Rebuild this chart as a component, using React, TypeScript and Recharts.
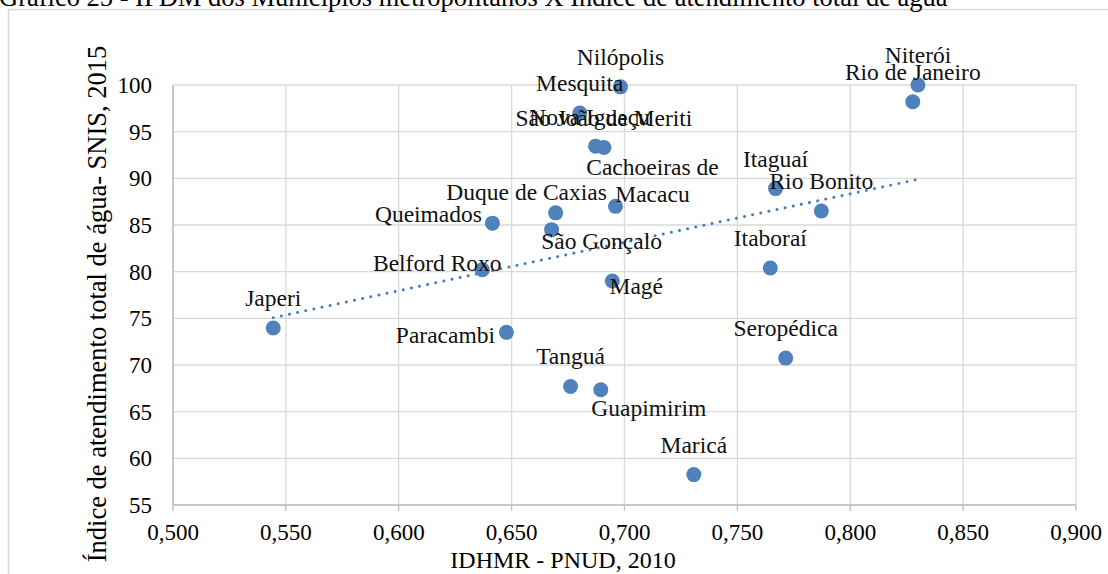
import React from 'react';
import { ScatterChart, Scatter, XAxis, YAxis, CartesianGrid, ReferenceLine } from 'recharts';

// municípios metropolitanos (RJ)
const municipios = [
  'Japeri', 'Paracambi', 'Belford Roxo', 'Queimados', 'Duque de Caxias', 'São Gonçalo',
  'Cachoeiras de Macacu', 'Magé', 'Tanguá', 'Guapimirim', 'Maricá', 'Seropédica',
  'Itaboraí', 'Itaguaí', 'Rio Bonito', 'Niterói', 'Rio de Janeiro', 'Nilópolis',
  'Mesquita', 'Nova Iguaçu', 'São João de Meriti',
];

// IDHMR - PNUD, 2010
const idhmr = [
  0.5444, 0.6477, 0.637, 0.6415, 0.6695, 0.6677,
  0.696, 0.6946, 0.6761, 0.6895, 0.7307, 0.7714,
  0.7646, 0.7669, 0.7872, 0.83, 0.8277, 0.6982,
  0.6802, 0.6872, 0.6909,
];

// Índice de atendimento total de água - SNIS, 2015
const atendimento = [
  73.96, 73.5, 80.2, 85.2, 86.3, 84.5,
  87.0, 79.0, 67.7, 67.35, 58.26, 70.74,
  80.4, 88.9, 86.5, 100.0, 98.2, 99.8,
  97.0, 93.45, 93.3,
];

const xTicks = [0.5, 0.55, 0.6, 0.65, 0.7, 0.75, 0.8, 0.85, 0.9];
const yTicks = [55, 60, 65, 70, 75, 80, 85, 90, 95, 100];

const TITLE = 'Gráfico 25 - IFDM dos Municípios metropolitanos X Índice de atendimento total de água';
const X_TITLE = 'IDHMR - PNUD, 2010';
const Y_TITLE = 'Índice de atendimento total de água- SNIS, 2015';

const FONT = '"Liberation Serif", "Times New Roman", serif';
const DOT = '#4F81BD';

// label placement relative to the marker (default: above)
const labelPos: Record<string, { dx: number; dy: number; lines?: string[] }> = {
  'Paracambi': { dx: -61, dy: 3 },
  'Belford Roxo': { dx: -45, dy: -7 },
  'Queimados': { dx: -64, dy: -9 },
  'Duque de Caxias': { dx: -29, dy: -21 },
  'São Gonçalo': { dx: 50, dy: 11 },
  'Cachoeiras de Macacu': { dx: 37, dy: -26, lines: ['Cachoeiras de', 'Macacu'] },
  'Magé': { dx: 24, dy: 5 },
  'Guapimirim': { dx: 48, dy: 18 },
  'Nova Iguaçu': { dx: -6, dy: -29 },
};

const data = municipios.map((name, i) => ({ name, x: idhmr[i], y: atendimento[i] }));

// linear trendline (least squares), drawn across the data range
const n = data.length;
const mx = idhmr.reduce((a, b) => a + b, 0) / n;
const my = atendimento.reduce((a, b) => a + b, 0) / n;
let sxy = 0;
let sxx = 0;
data.forEach((d) => {
  sxy += (d.x - mx) * (d.y - my);
  sxx += (d.x - mx) * (d.x - mx);
});
const slope = sxy / sxx;
const xMin = Math.min(...idhmr);
const xMax = Math.max(...idhmr);
const trend = [
  { x: xMin, y: my + slope * (xMin - mx) },
  { x: xMax, y: my + slope * (xMax - mx) },
];

const DotShape = (props: any) => (
  <circle cx={props.cx} cy={props.cy} r={7.5} fill={DOT} />
);

const LabelShape = (props: any) => {
  const name = props.payload?.name as string;
  const pos = labelPos[name] || { dx: 0, dy: -30 };
  const lines = pos.lines || [name];
  const lh = 27.5;
  const top = props.cy + pos.dy - ((lines.length - 1) * lh) / 2;
  return (
    <g>
      {lines.map((l, i) => (
        <text
          key={i}
          x={props.cx + pos.dx}
          y={top + i * lh}
          textAnchor="middle"
          dominantBaseline="central"
          style={{ fontFamily: FONT, fontSize: 23.5 }}
          fill="#111"
        >
          {l}
        </text>
      ))}
    </g>
  );
};

const App: React.FC = () => {
  return (
    <div style={{ position: 'fixed', left: 0, top: 0, width: 1108, height: 574, overflow: 'hidden', background: '#fff', fontFamily: FONT }}>
      <style>{`.recharts-text, .recharts-cartesian-axis-tick-value { font-family: "Liberation Serif", "Times New Roman", serif !important; }`}</style>
      <svg width={1108} height={574} style={{ position: 'absolute', left: 0, top: 0 }}>
        <rect x={8.5} y={9.5} width={1200} height={700} fill="none" stroke="#d9d9d9" strokeWidth={1.5} />
        <text x={-1} y={6} style={{ fontFamily: FONT, fontSize: 26.5 }} fill="#000">{TITLE}</text>
        <text x={563} y={568} textAnchor="middle" style={{ fontFamily: FONT, fontSize: 24 }} fill="#000">{X_TITLE}</text>
        <text
          transform="translate(97, 304) rotate(-90)"
          textAnchor="middle"
          dominantBaseline="central"
          style={{ fontFamily: FONT, fontSize: 26.5 }}
          fill="#000"
        >
          {Y_TITLE}
        </text>
      </svg>
      <div style={{ position: 'absolute', left: 0, top: 0 }}>
        <ScatterChart width={1108} height={574} margin={{ top: 85, right: 32, bottom: 29, left: 113 }}>
          <CartesianGrid stroke="#d9d9d9" strokeWidth={1.3} />
          <XAxis
            type="number"
            dataKey="x"
            domain={[0.5, 0.9]}
            ticks={xTicks}
            interval={0}
            height={40}
            tickFormatter={(v: number) => v.toFixed(3).replace('.', ',')}
            axisLine={{ stroke: '#bfbfbf', strokeWidth: 1.5 }}
            tickLine={{ stroke: '#bfbfbf', strokeWidth: 1.3 }}
            tickSize={6}
            tickMargin={13}
            tick={{ fill: '#000', fontSize: 23 }}
          />
          <YAxis
            type="number"
            dataKey="y"
            domain={[55, 100]}
            ticks={yTicks}
            interval={0}
            width={60}
            axisLine={{ stroke: '#bfbfbf', strokeWidth: 1.5 }}
            tickLine={false}
            tickSize={6}
            tickMargin={15}
            tick={{ fill: '#000', fontSize: 23 }}
          />
          <Scatter data={data} shape={DotShape} isAnimationActive={false} />
          <ReferenceLine
            segment={trend}
            stroke="#4A7EBB"
            strokeWidth={3}
            strokeDasharray="0.01 8.3"
            strokeLinecap="round"
            ifOverflow="visible"
          />
          <Scatter data={data} shape={LabelShape} isAnimationActive={false} />
        </ScatterChart>
      </div>
    </div>
  );
};

export default App;
